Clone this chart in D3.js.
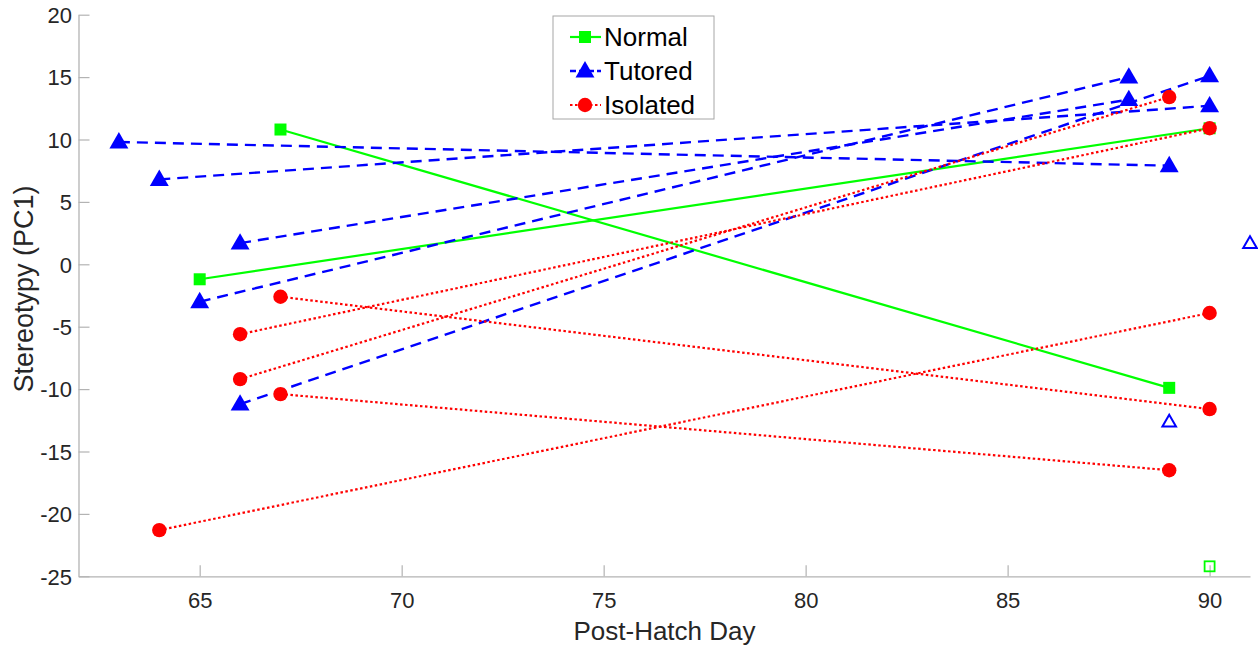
<!DOCTYPE html>
<html>
<head>
<meta charset="utf-8">
<script src="https://cdn.jsdelivr.net/npm/d3@7"></script>
<style>
	body { margin: 0; background: #fff; }
	text { font-family: "Liberation Sans", Arial, sans-serif; }
</style>
</head>
<body>
<div id="chart"></div>
<script>
// each pair: [startDay, startValue, endDay, endValue]
var normalPairs = [
	[65, -1.2, 90, 10.9],
	[67, 10.8, 89, -9.9]
];
var tutoredPairs = [
	[63, 9.8, 89, 7.9],
	[64, 6.8, 90, 12.7],
	[66, 1.7, 88, 13.2],
	[65, -3.0, 88, 15.0],
	[66, -11.2, 90, 15.1]
];
var isolatedPairs = [
	[64, -21.3, 90, -3.9],
	[66, -5.6, 90, 10.9],
	[66, -9.2, 89, 13.4],
	[67, -2.6, 90, -11.6],
	[67, -10.4, 89, -16.5]
];
// single unpaired points (open markers)
var normalSingles = [[90, -24.2]];
var tutoredSingles = [[89, -12.6], [91, 1.7]];

var xTicks = [65, 70, 75, 80, 85, 90];
var yTicks = [-25, -20, -15, -10, -5, 0, 5, 10, 15, 20];
var legendNames = ["Normal", "Tutored", "Isolated"];

var width = 1258, height = 645;
var svg = d3.select("#chart")
	.append("svg")
	.attr("width", width)
	.attr("height", height);

var x = d3.scaleLinear().domain([62, 91]).range([78.5, 1250]);
var y = d3.scaleLinear().domain([-25, 20]).range([576.3, 14.7]);

var axisColor = "#b3b3b3";
var textColor = "#262626";

// axes, ticks pointing inward like matlab, plain hyphen minus
var fmt = function(d){ return String(d); };
var xAxis = d3.axisBottom(x).tickValues(xTicks).tickFormat(fmt).tickSize(-11).tickPadding(24).tickSizeOuter(0);
var yAxis = d3.axisLeft(y).tickValues(yTicks).tickFormat(fmt).tickSize(-11).tickPadding(6.5).tickSizeOuter(0);

var gx = svg.append("g").attr("transform", "translate(0," + y(-25) + ")").call(xAxis);
var gy = svg.append("g").attr("transform", "translate(" + x(62) + ",0)").call(yAxis);
[gx, gy].forEach(function(g){
	g.select(".domain").attr("stroke", axisColor).attr("stroke-width", 1.3);
	g.selectAll(".tick line").attr("stroke", axisColor).attr("stroke-width", 1.2);
	g.selectAll(".tick text").attr("fill", textColor).attr("dy", "0.35em").style("font-size", "22px");
});

svg.append("text")
	.attr("x", 664.5).attr("y", 640)
	.attr("text-anchor", "middle")
	.attr("fill", textColor)
	.style("font-size", "26px")
	.text("Post-Hatch Day");
svg.append("text")
	.attr("transform", "translate(33,289) rotate(-90)")
	.attr("text-anchor", "middle")
	.attr("fill", textColor)
	.style("font-size", "27px")
	.text("Stereotypy (PC1)");

var styles = {
	Normal: { color: "#00ff00", dash: null, width: 2.2 },
	Tutored: { color: "#0000ff", dash: "11,7", width: 2.4 },
	Isolated: { color: "#ff0000", dash: "2.5,2.5", width: 2.2 }
};

function marker(g, name, cx, cy, open) {
	var s = styles[name];
	if (name === "Normal") {
		var sz = open ? 10 : 12;
		g.append("rect")
			.attr("x", cx - sz / 2).attr("y", cy - sz / 2)
			.attr("width", sz).attr("height", sz)
			.attr("fill", open ? "none" : s.color)
			.attr("stroke", s.color).attr("stroke-width", open ? 1.8 : 0);
	} else if (name === "Tutored") {
		var tri = d3.symbol().type(d3.symbolTriangle).size(open ? 80 : 155);
		g.append("path")
			.attr("d", tri())
			.attr("transform", "translate(" + cx + "," + (cy + 1) + ")")
			.attr("fill", open ? "none" : s.color)
			.attr("stroke", s.color).attr("stroke-width", open ? 2 : 0);
	} else {
		g.append("circle")
			.attr("cx", cx).attr("cy", cy).attr("r", 7.2)
			.attr("fill", s.color);
	}
}

var plot = svg.append("g");
var line = d3.line().x(function(d){ return x(d[0]); }).y(function(d){ return y(d[1]); });

function drawGroup(name, pairs) {
	var s = styles[name];
	var g = plot.append("g");
	pairs.forEach(function(p){
		g.append("path")
			.attr("d", line([[p[0], p[1]], [p[2], p[3]]]))
			.attr("fill", "none")
			.attr("stroke", s.color)
			.attr("stroke-width", s.width)
			.attr("stroke-dasharray", s.dash);
		marker(g, name, x(p[0]), y(p[1]), false);
		marker(g, name, x(p[2]), y(p[3]), false);
	});
}
drawGroup("Normal", normalPairs);
drawGroup("Tutored", tutoredPairs);
drawGroup("Isolated", isolatedPairs);

normalSingles.forEach(function(p){ marker(plot, "Normal", x(p[0]), y(p[1]), true); });
tutoredSingles.forEach(function(p){ marker(plot, "Tutored", x(p[0]), y(p[1]), true); });

// legend
var leg = svg.append("g").attr("transform", "translate(553,16)");
leg.append("rect")
	.attr("width", 161).attr("height", 103)
	.attr("fill", "#fff")
	.attr("stroke", "#a6a6a6").attr("stroke-width", 1);
legendNames.forEach(function(name, i){
	var s = styles[name];
	var ly = 21 + i * 34;
	leg.append("line")
		.attr("x1", 17).attr("x2", 48)
		.attr("y1", ly).attr("y2", ly)
		.attr("stroke", s.color)
		.attr("stroke-width", s.width)
		.attr("stroke-dasharray", name === "Tutored" ? "6,3" : s.dash);
	marker(leg, name, 32, ly, false);
	leg.append("text")
		.attr("x", 51).attr("y", ly)
		.attr("dy", "0.35em")
		.attr("fill", "#000")
		.style("font-size", "26px")
		.text(name);
});
</script>
</body>
</html>
